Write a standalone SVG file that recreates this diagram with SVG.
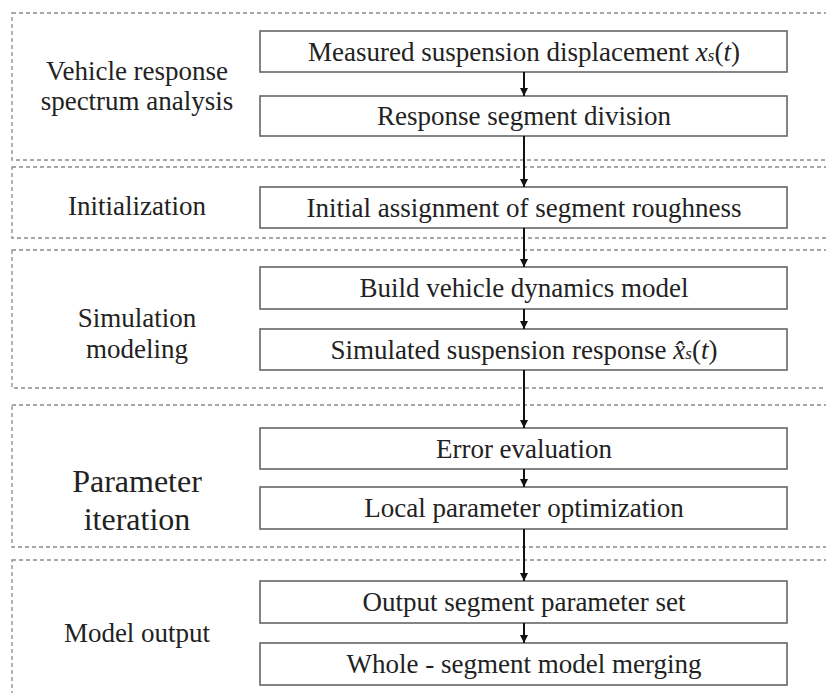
<svg xmlns="http://www.w3.org/2000/svg" width="826" height="693" viewBox="0 0 826 693">
<style>
.grp{fill:none;stroke:#8a8a8a;stroke-width:1.3;stroke-dasharray:4 3}
.node rect{fill:#fff;stroke:#666;stroke-width:1.6}
text{font-family:'Liberation Serif','Tinos','DejaVu Serif',serif;fill:#222;text-anchor:middle}
.nt{font-size:27px}
.lt{font-size:27px}
.lg{font-size:32px}
.conn line{stroke:#111;stroke-width:2}
.it{font-style:italic}
</style>
<defs>
<marker id="ah" viewBox="0 0 10 10" refX="10" refY="5" markerWidth="4" markerHeight="4" markerUnits="strokeWidth" orient="auto">
<path d="M0,0 L10,5 L0,10 z" fill="#111"/>
</marker>
</defs>
<rect width="826" height="693" fill="#fff"/>
<g id="groups">
<g id="g1"><rect class="grp" x="12" y="13" width="830" height="147"/><text class="lt" x="137" y="80">Vehicle response</text><text class="lt" x="137" y="110">spectrum analysis</text></g>
<g id="g2"><rect class="grp" x="12" y="167" width="830" height="71"/><text class="lt" x="137" y="215">Initialization</text></g>
<g id="g3"><rect class="grp" x="12" y="250" width="830" height="138"/><text class="lt" x="137" y="327">Simulation</text><text class="lt" x="137" y="358">modeling</text></g>
<g id="g4"><rect class="grp" x="12" y="405" width="830" height="142"/><text class="lg" x="137" y="492">Parameter</text><text class="lg" x="137" y="530">iteration</text></g>
<g id="g5"><rect class="grp" x="12" y="560" width="830" height="200"/><text class="lt" x="137" y="642">Model output</text></g>
</g>
<g id="n1" class="node"><rect x="260" y="31" width="527" height="41"/><text class="nt" x="524" y="61">Measured suspension displacement <tspan class="it">x</tspan><tspan class="it" font-size="17">s</tspan>(<tspan class="it">t</tspan>)</text></g>
<g id="n2" class="node"><rect x="260" y="96" width="527" height="40"/><text class="nt" x="524" y="125">Response segment division</text></g>
<g id="n3" class="node"><rect x="260" y="187" width="527" height="41"/><text class="nt" x="524" y="217">Initial assignment of segment roughness</text></g>
<g id="n4" class="node"><rect x="260" y="267" width="527" height="42"/><text class="nt" x="524" y="297">Build vehicle dynamics model</text></g>
<g id="n5" class="node"><rect x="260" y="329" width="527" height="41"/><text class="nt" x="524" y="359">Simulated suspension response <tspan class="it">x̂</tspan><tspan class="it" font-size="17">s</tspan>(<tspan class="it">t</tspan>)</text></g>
<g id="n6" class="node"><rect x="260" y="428" width="527" height="41"/><text class="nt" x="524" y="458">Error evaluation</text></g>
<g id="n7" class="node"><rect x="260" y="487" width="527" height="42"/><text class="nt" x="524" y="517">Local parameter optimization</text></g>
<g id="n8" class="node"><rect x="260" y="581" width="527" height="42"/><text class="nt" x="524" y="611">Output segment parameter set</text></g>
<g id="n9" class="node"><rect x="260" y="643" width="527" height="42"/><text class="nt" x="524" y="673">Whole - segment model merging</text></g>
<g id="connectors" class="conn">
<line x1="524" y1="72" x2="524" y2="96" marker-end="url(#ah)"/>
<line x1="524" y1="136" x2="524" y2="187" marker-end="url(#ah)"/>
<line x1="524" y1="228" x2="524" y2="267" marker-end="url(#ah)"/>
<line x1="524" y1="309" x2="524" y2="329" marker-end="url(#ah)"/>
<line x1="524" y1="370" x2="524" y2="428" marker-end="url(#ah)"/>
<line x1="524" y1="469" x2="524" y2="487" marker-end="url(#ah)"/>
<line x1="524" y1="529" x2="524" y2="581" marker-end="url(#ah)"/>
<line x1="524" y1="623" x2="524" y2="643" marker-end="url(#ah)"/>
</g>
</svg>
